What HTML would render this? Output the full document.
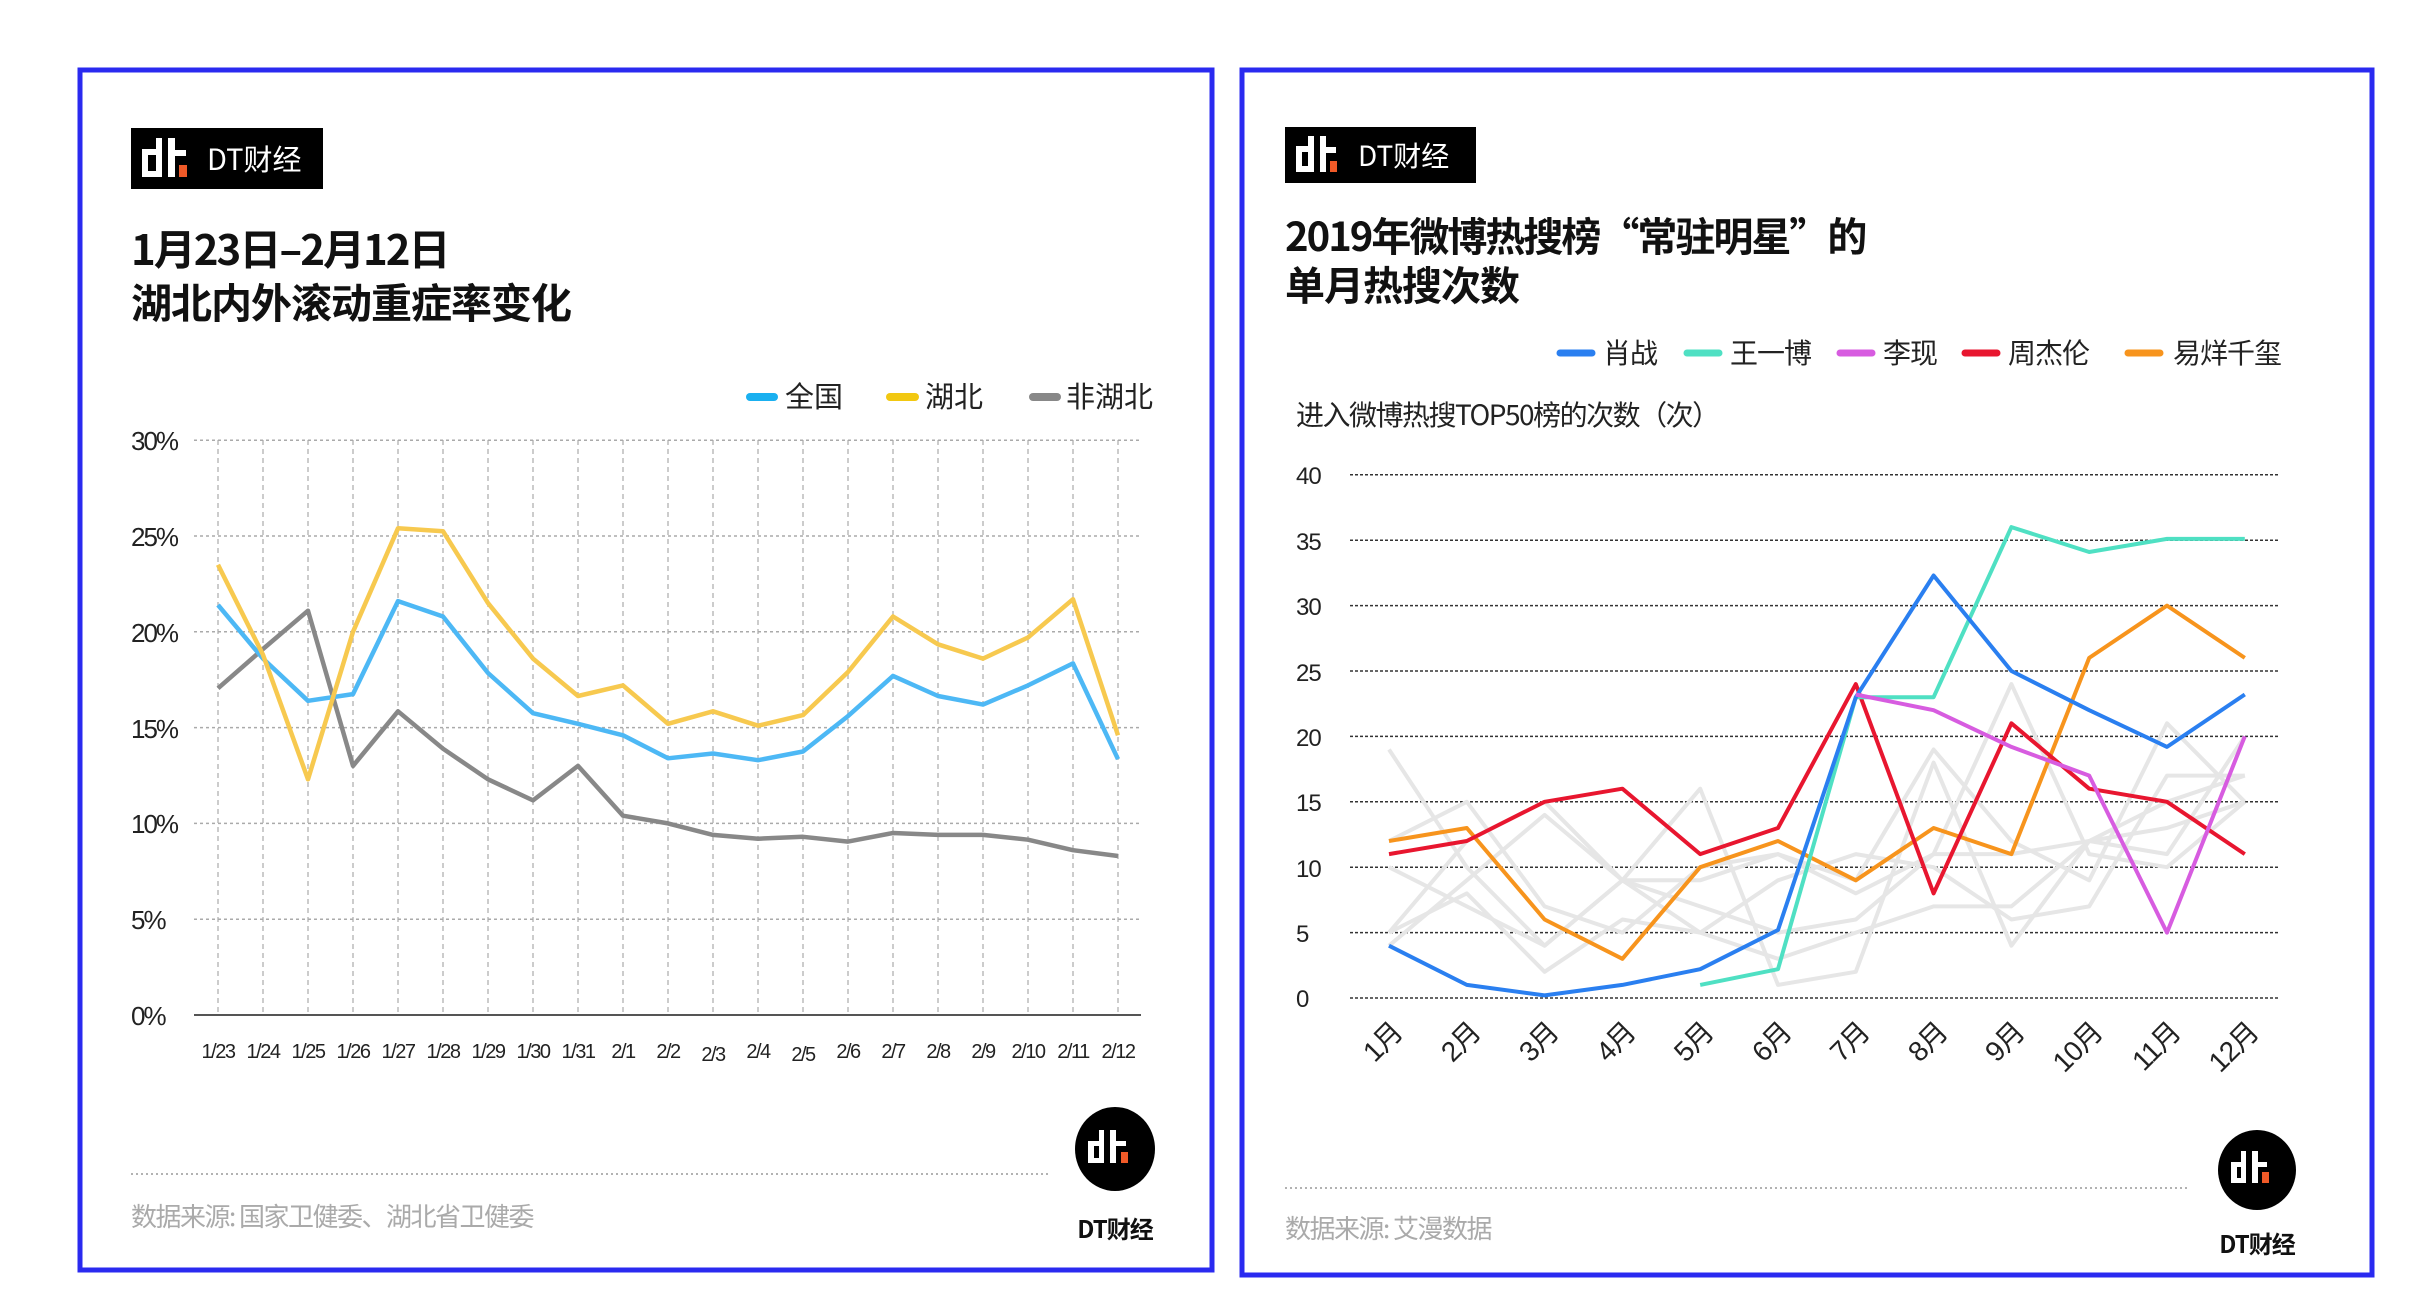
<!DOCTYPE html>
<html><head><meta charset="utf-8">
<style>
html,body{margin:0;padding:0;background:#fff;}
svg{display:block;}
text{font-family:"Liberation Sans","Noto Sans CJK SC",sans-serif;}
.cjk{font-family:"Noto Sans CJK SC","Liberation Sans",sans-serif;}
</style></head>
<body>
<svg id="s" width="2430" height="1313" viewBox="0 0 2430 1313" xmlns="http://www.w3.org/2000/svg">
<rect width="2430" height="1313" fill="#fff"/>
<!-- panel borders -->
<rect x="80" y="70" width="1132" height="1200" fill="none" stroke="#2a2af0" stroke-width="5"/>
<rect x="1242" y="70" width="1130" height="1205" fill="none" stroke="#2a2af0" stroke-width="5"/>

<!-- LEFT logo box -->
<rect x="131" y="128" width="192" height="61" fill="#000"/>
<g fill="#fff">
<rect x="142" y="149" width="6" height="28"/><rect x="142" y="149" width="20" height="6"/><rect x="142" y="171" width="20" height="6"/><rect x="156" y="138" width="6" height="39"/>
<rect x="168" y="138" width="7" height="39"/><rect x="168" y="150" width="18" height="6"/>
</g>
<rect x="179" y="165" width="8" height="12" fill="#f05a28"/>
<text x="207" y="170" font-size="29" fill="#fff" class="cjk">DT财经</text>

<text x="131" y="265" font-size="42" font-weight="bold" class="cjk" fill="#111" letter-spacing="-2">1月23日–2月12日</text>
<text x="131" y="318" font-size="41" font-weight="bold" class="cjk" fill="#111" letter-spacing="-1">湖北内外滚动重症率变化</text>

<!-- left legend -->
<line x1="750" y1="397" x2="774" y2="397" stroke="#1ab0f0" stroke-width="8" stroke-linecap="round"/>
<text x="785" y="407" font-size="29" class="cjk" fill="#222">全国</text>
<line x1="890" y1="397" x2="915" y2="397" stroke="#f2c811" stroke-width="8" stroke-linecap="round"/>
<text x="925" y="407" font-size="29" class="cjk" fill="#222">湖北</text>
<line x1="1033" y1="397" x2="1057" y2="397" stroke="#888" stroke-width="8" stroke-linecap="round"/>
<text x="1066" y="407" font-size="29" class="cjk" fill="#222">非湖北</text>

<!-- left grid -->
<g id="lgrid"></g>
<g font-size="26" fill="#222" letter-spacing="-2">
<text x="131" y="450">30%</text>
<text x="131" y="546">25%</text>
<text x="131" y="642">20%</text>
<text x="131" y="738">15%</text>
<text x="131" y="833">10%</text>
<text x="131" y="929">5%</text>
<text x="131" y="1025">0%</text>
</g>
<g font-size="20" fill="#222" text-anchor="middle" letter-spacing="-1.5">
<text x="218" y="1058">1/23</text><text x="263" y="1058">1/24</text><text x="308" y="1058">1/25</text><text x="353" y="1058">1/26</text><text x="398" y="1058">1/27</text><text x="443" y="1058">1/28</text><text x="488" y="1058">1/29</text><text x="533" y="1058">1/30</text><text x="578" y="1058">1/31</text><text x="623" y="1058">2/1</text><text x="668" y="1058">2/2</text><text x="713" y="1061">2/3</text><text x="758" y="1058">2/4</text><text x="803" y="1061">2/5</text><text x="848" y="1058">2/6</text><text x="893" y="1058">2/7</text><text x="938" y="1058">2/8</text><text x="983" y="1058">2/9</text><text x="1028" y="1058">2/10</text><text x="1073" y="1058">2/11</text><text x="1118" y="1058">2/12</text>
</g>
<g id="llines"></g>

<line x1="131" y1="1174" x2="1048" y2="1174" stroke="#999" stroke-width="1.5" stroke-dasharray="2,3"/>
<text x="131" y="1226" font-size="26" class="cjk" fill="#aaa" letter-spacing="-1.5">数据来源: 国家卫健委、湖北省卫健委</text>
<ellipse cx="1115" cy="1149" rx="40" ry="42" fill="#000"/>
<g fill="#fff">
<rect x="1088" y="1141" width="6" height="22"/><rect x="1088" y="1141" width="16" height="5"/><rect x="1088" y="1158" width="16" height="5"/><rect x="1099" y="1130" width="5" height="33"/>
<rect x="1110" y="1130" width="6" height="33"/><rect x="1110" y="1141" width="16" height="5"/>
</g>
<rect x="1121" y="1152" width="7" height="11" fill="#f05a28"/>
<text x="1115" y="1238" font-size="24" font-weight="bold" class="cjk" fill="#111" text-anchor="middle" letter-spacing="-1">DT财经</text>

<!-- RIGHT logo box -->
<rect x="1285" y="127" width="191" height="56" fill="#000"/>
<g fill="#fff">
<rect x="1296" y="146" width="6" height="26"/><rect x="1296" y="146" width="18" height="6"/><rect x="1296" y="166" width="18" height="6"/><rect x="1308" y="136" width="6" height="36"/>
<rect x="1320" y="136" width="6" height="36"/><rect x="1320" y="147" width="16" height="6"/>
</g>
<rect x="1330" y="161" width="7" height="11" fill="#f05a28"/>
<text x="1358" y="166" font-size="28" fill="#fff" class="cjk">DT财经</text>

<text x="1285" y="251" font-size="40" font-weight="bold" class="cjk" fill="#111" letter-spacing="-2">2019年微博热搜榜“常驻明星”的</text>
<text x="1285" y="300" font-size="40" font-weight="bold" class="cjk" fill="#111" letter-spacing="-1">单月热搜次数</text>

<!-- right legend -->
<g stroke-width="7" stroke-linecap="round">
<line x1="1560" y1="353" x2="1592" y2="353" stroke="#2a7ff0"/>
<line x1="1687" y1="353" x2="1719" y2="353" stroke="#4fe0c3"/>
<line x1="1840" y1="353" x2="1872" y2="353" stroke="#d75ce0"/>
<line x1="1965" y1="353" x2="1997" y2="353" stroke="#e8162f"/>
<line x1="2128" y1="353" x2="2160" y2="353" stroke="#f7941d"/>
</g>
<g font-size="28" class="cjk" fill="#222" letter-spacing="-1">
<text x="1603" y="363">肖战</text>
<text x="1730" y="363">王一博</text>
<text x="1883" y="363">李现</text>
<text x="2008" y="363">周杰伦</text>
<text x="2173" y="363">易烊千玺</text>
</g>
<text x="1296" y="425" font-size="28" class="cjk" fill="#222" letter-spacing="-1.5">进入微博热搜TOP50榜的次数（次）</text>

<g id="rgrid"></g>
<g font-size="24" fill="#222" letter-spacing="-1">
<text x="1296" y="484">40</text><text x="1296" y="550">35</text><text x="1296" y="615">30</text><text x="1296" y="681">25</text><text x="1296" y="746">20</text><text x="1296" y="811">15</text><text x="1296" y="877">10</text><text x="1296" y="942">5</text><text x="1296" y="1007">0</text>
</g>
<g font-size="28" class="cjk" fill="#222" text-anchor="end" letter-spacing="-1">
<text transform="translate(1404,1034) rotate(-45)">1月</text>
<text transform="translate(1482,1034) rotate(-45)">2月</text>
<text transform="translate(1560,1034) rotate(-45)">3月</text>
<text transform="translate(1637,1034) rotate(-45)">4月</text>
<text transform="translate(1715,1034) rotate(-45)">5月</text>
<text transform="translate(1793,1034) rotate(-45)">6月</text>
<text transform="translate(1871,1034) rotate(-45)">7月</text>
<text transform="translate(1949,1034) rotate(-45)">8月</text>
<text transform="translate(2026,1034) rotate(-45)">9月</text>
<text transform="translate(2104,1034) rotate(-45)">10月</text>
<text transform="translate(2182,1034) rotate(-45)">11月</text>
<text transform="translate(2260,1034) rotate(-45)">12月</text>
</g>
<g id="rlines"></g>

<line x1="1285" y1="1188" x2="2189" y2="1188" stroke="#999" stroke-width="1.5" stroke-dasharray="2,3"/>
<text x="1285" y="1238" font-size="26" class="cjk" fill="#aaa" letter-spacing="-1.5">数据来源: 艾漫数据</text>
<ellipse cx="2257" cy="1170" rx="39" ry="40" fill="#000"/>
<g fill="#fff">
<rect x="2231" y="1162" width="6" height="21"/><rect x="2231" y="1162" width="15" height="5"/><rect x="2231" y="1178" width="15" height="5"/><rect x="2241" y="1151" width="5" height="32"/>
<rect x="2252" y="1151" width="6" height="32"/><rect x="2252" y="1162" width="15" height="5"/>
</g>
<rect x="2262" y="1172" width="7" height="11" fill="#f05a28"/>
<text x="2257" y="1253" font-size="24" font-weight="bold" class="cjk" fill="#111" text-anchor="middle" letter-spacing="-1">DT财经</text>
</svg>
<script>
var NS="http://www.w3.org/2000/svg";
function el(p,t,a){var e=document.createElementNS(NS,t);for(var k in a)e.setAttribute(k,a[k]);document.getElementById(p).appendChild(e);}
// left grid
for(var i=0;i<21;i++){var x=218+45*i;el("lgrid","line",{x1:x,y1:440,x2:x,y2:1015,stroke:"#bbb","stroke-width":1.5,"stroke-dasharray":"5,4"});}
for(var k=1;k<=6;k++){var y=1015-k*95.8;el("lgrid","line",{x1:194,y1:y,x2:1141,y2:y,stroke:"#aaa","stroke-width":1.5,"stroke-dasharray":"3,3"});}
el("lgrid","line",{x1:194,y1:1015,x2:1141,y2:1015,stroke:"#555","stroke-width":2});
var L={
"#888":[17.05,19.1,21.1,13.0,15.85,13.9,12.3,11.2,13.0,10.4,10.0,9.4,9.2,9.3,9.05,9.5,9.4,9.4,9.15,8.6,8.3],
"#4db8f5":[21.4,18.6,16.4,16.75,21.6,20.8,17.85,15.75,15.2,14.6,13.4,13.65,13.3,13.75,15.6,17.7,16.65,16.2,17.2,18.35,13.35],
"#f7c94f":[23.5,18.8,12.3,20.0,25.4,25.25,21.5,18.6,16.65,17.2,15.2,15.85,15.1,15.65,17.9,20.8,19.35,18.6,19.7,21.7,14.6]};
for(var c in L){var pts=L[c].map(function(v,i){return (218+45*i)+","+(1015-v*19.16).toFixed(1);}).join(" ");
el("llines","polyline",{points:pts,fill:"none",stroke:c,"stroke-width":4.5,"stroke-linejoin":"round"});}
// right grid
for(var k=0;k<=8;k++){var y=998-k*65.4;el("rgrid","line",{x1:1350,y1:y,x2:2279,y2:y,stroke:"#333","stroke-width":1.5,"stroke-dasharray":"3,2"});}
function rp(arr,start){return arr.map(function(v,i){return (1389+77.8*(i+start)).toFixed(1)+","+(998-v*13.08).toFixed(1);}).join(" ");}
var G=[[19,10,4,9,9,11,9,19,12,9,21,15],[5,12,15,9,7,5,6,11,24,11,10,15],[5,8,2,6,5,3,5,7,7,12,11,20],[4,9,14,9,16,1,2,18,4,12,15,17],[12,15,7,5,10,11,8,11,11,12,13,15],[10,7,4,9,5,9,11,10,6,7,17,17]];
G.forEach(function(a){el("rlines","polyline",{points:rp(a,0),fill:"none",stroke:"#e6e6e6","stroke-width":4,"stroke-linejoin":"round"});});
var R=[["#f7941d",[12,13,6,3,10,12,9,13,11,26,30,26],0],["#e8162f",[11,12,15,16,11,13,24,8,21,16,15,11],0],["#4fe0c3",[1,2.2,23,23,36,34.1,35.1,35.1],4],["#2a7ff0",[4,1,0.2,1,2.2,5.2,23,32.3,25,22,19.2,23.2],0],["#d75ce0",[23.2,22,19.2,17,5,20],6]];
R.forEach(function(r){el("rlines","polyline",{points:rp(r[1],r[2]),fill:"none",stroke:r[0],"stroke-width":4,"stroke-linejoin":"round"});});
</script>
</body></html>
